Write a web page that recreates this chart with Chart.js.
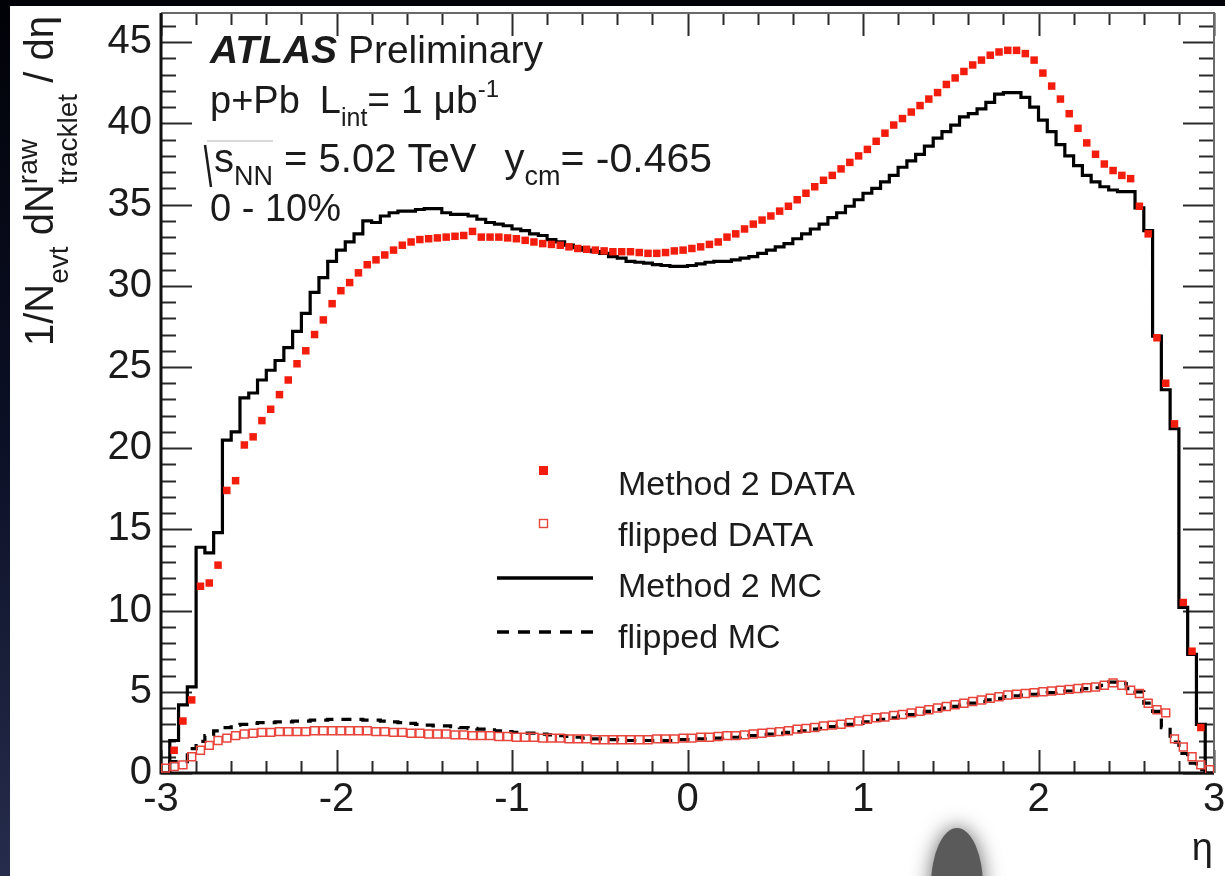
<!DOCTYPE html>
<html>
<head>
<meta charset="utf-8">
<title>Raw tracklet dN/deta, p+Pb 0-10%</title>
<script src="https://cdn.jsdelivr.net/npm/chart.js@4.4.1/dist/chart.umd.min.js"></script>
<style>
  html, body { margin: 0; padding: 0; background: #000; }
  #wrap { position: relative; width: 1225px; height: 876px; }
</style>
</head>
<body>
<div id="wrap"><canvas id="etaPlot" width="1225" height="876"></canvas></div>
<script>
const FONT = '"Liberation Sans", Arial, Helvetica, sans-serif';

// histogram binning
const etaMin = -3;
const etaMax = 3;
const binWidth = 0.05;

const xTickValues = [-3, -2, -1, 0, 1, 2, 3];
const yTickValues = [0, 5, 10, 15, 20, 25, 30, 35, 40, 45];
const yMax = 46.8;

// 120 bins each, eta from -3 to 3
const method2Data = [
  null, 1.4, 3.2, 4.5, 11.5, 11.7, 12.8, 17.4, 18.0, 20.2,
  20.7, 21.7, 22.4, 23.3, 24.2, 25.2, 26.0, 27.0, 27.9, 28.9,
  29.7, 30.2, 30.8, 31.3, 31.6, 31.9, 32.2, 32.5, 32.7, 32.85,
  32.9, 32.95, 33.0, 33.05, 33.1, 33.35, 33.0, 33.0, 33.0, 32.95,
  32.9, 32.8, 32.7, 32.6, 32.55, 32.5, 32.4, 32.3, 32.25, 32.2,
  32.15, 32.1, 32.1, 32.1, 32.05, 32.0, 32.0, 32.05, 32.15, 32.2,
  32.3, 32.4, 32.55, 32.7, 33.0, 33.2, 33.5, 33.8, 34.05, 34.3,
  34.6, 34.9, 35.3, 35.7, 36.1, 36.5, 36.8, 37.2, 37.6, 38.0,
  38.4, 38.9, 39.4, 39.9, 40.3, 40.7, 41.1, 41.5, 41.9, 42.4,
  42.8, 43.2, 43.6, 43.9, 44.2, 44.4, 44.5, 44.5, 44.3, 43.9,
  43.1, 42.3, 41.5, 40.6, 39.7, 38.8, 38.1, 37.5, 37.1, 36.8,
  36.6, 34.9, 33.2, 26.8, 24.0, 21.5, 10.5, 7.5, 2.8, null
];

const flippedData = [
  0.3, 0.4, 0.5, 1.0, 1.4, 1.7, 2.0, 2.15, 2.3, 2.4,
  2.45, 2.5, 2.5, 2.55, 2.55, 2.55, 2.55, 2.6, 2.6, 2.6,
  2.6, 2.6, 2.6, 2.6, 2.55, 2.55, 2.5, 2.5, 2.45, 2.45,
  2.4, 2.4, 2.4, 2.35, 2.35, 2.3, 2.3, 2.3, 2.25, 2.25,
  2.2, 2.2, 2.2, 2.15, 2.15, 2.15, 2.1, 2.1, 2.1, 2.05,
  2.05, 2.05, 2.05, 2.05, 2.05, 2.05, 2.1, 2.1, 2.1, 2.15,
  2.15, 2.2, 2.2, 2.25, 2.3, 2.3, 2.35, 2.4, 2.45, 2.5,
  2.55, 2.6, 2.7, 2.75, 2.8, 2.9, 2.95, 3.0, 3.1, 3.2,
  3.3, 3.4, 3.45, 3.55, 3.6, 3.7, 3.8, 3.9, 4.0, 4.1,
  4.2, 4.3, 4.4, 4.5, 4.6, 4.7, 4.8, 4.85, 4.9, 4.95,
  5.0, 5.05, 5.1, 5.15, 5.2, 5.25, 5.3, 5.4, 5.55, 5.4,
  5.1, 4.9, 4.3, 3.9, 3.7, 2.1, 1.6, 1.0, 0.5, 0.2
];

const method2MC = [
  0, 2.0, 4.2, 5.3, 13.9, 13.55, 14.8, 20.5, 21.0, 23.1,
  23.4, 24.2, 24.8, 25.4, 26.2, 27.2, 28.3, 29.6, 30.5, 31.5,
  32.2, 32.7, 33.2, 34.0, 33.9, 34.3, 34.5, 34.6, 34.6, 34.7,
  34.75, 34.75, 34.5, 34.4, 34.4, 34.3, 34.1, 33.9, 33.8, 33.7,
  33.5, 33.4, 33.2, 33.1, 32.85, 32.7, 32.5, 32.35, 32.2, 32.1,
  32.0, 31.8, 31.7, 31.5, 31.45, 31.4, 31.3, 31.25, 31.2, 31.2,
  31.25, 31.35, 31.45, 31.5, 31.5, 31.6, 31.7, 31.8, 32.0, 32.2,
  32.4, 32.6, 32.9, 33.2, 33.5, 33.8, 34.2, 34.5, 34.9, 35.3,
  35.7, 36.0, 36.4, 36.8, 37.3, 37.7, 38.1, 38.6, 39.1, 39.5,
  39.9, 40.4, 40.6, 40.9, 41.3, 41.8, 41.9, 41.9, 41.6, 41.0,
  40.2, 39.5, 38.7, 38.0, 37.4, 36.8, 36.4, 36.1, 35.9, 35.8,
  35.8, 34.8, 33.4, 26.9, 23.6, 21.2, 10.2, 7.3, 3.0, 0
];

const flippedMC = [
  0, 0.7, 0.7, 1.5, 1.95, 2.3, 2.6, 2.8, 2.95, 3.0,
  3.05, 3.1, 3.1, 3.15, 3.15, 3.2, 3.2, 3.25, 3.25, 3.3,
  3.3, 3.3, 3.3, 3.25, 3.25, 3.2, 3.15, 3.1, 3.05, 3.0,
  2.95, 2.9, 2.9, 2.85, 2.8, 2.75, 2.7, 2.65, 2.6, 2.55,
  2.5, 2.45, 2.45, 2.4, 2.35, 2.3, 2.25, 2.2, 2.15, 2.1,
  2.1, 2.05, 2.05, 2.0, 2.0, 2.0, 2.0, 2.0, 2.0, 2.05,
  2.05, 2.1, 2.1, 2.15, 2.2, 2.2, 2.25, 2.3, 2.35, 2.4,
  2.45, 2.5, 2.55, 2.6, 2.7, 2.75, 2.85, 2.9, 3.0, 3.05,
  3.15, 3.25, 3.3, 3.4, 3.5, 3.6, 3.7, 3.8, 3.9, 4.0,
  4.1, 4.2, 4.3, 4.4, 4.5, 4.6, 4.7, 4.75, 4.8, 4.85,
  4.9, 4.95, 5.0, 5.05, 5.1, 5.2, 5.25, 5.4, 5.6, 5.5,
  5.2, 5.0, 4.3, 3.8, 2.8, 1.9, 1.2, 0.6, 0.2, 0
];

const binEdges = method2MC.map((_, i) => etaMin + i * binWidth);
const binCenters = binEdges.map(e => e + binWidth / 2);

const RED = '#f21d0d';
const RED_OPEN = '#e8453c';

// histogram outline: one point per low edge, plus the closing edge
function stepPoints(values) {
  const pts = values.map((v, i) => ({ x: binEdges[i], y: v }));
  pts.push({ x: etaMax, y: values[values.length - 1] });
  return pts;
}

function markerPoints(values) {
  return values.map((v, i) => ({ x: binCenters[i], y: v }));
}

// sub/superscript text run; parts with keep:true don't advance the pen
function richText(ctx, x, y, parts) {
  let cx = x;
  for (const p of parts) {
    if (p.gap) { cx += p.gap; continue; }
    ctx.font = `${p.style || ''} ${p.size}px ${FONT}`;
    ctx.fillText(p.t, cx, y + (p.dy || 0));
    if (!p.keep) cx += ctx.measureText(p.t).width;
  }
  return cx;
}

const backdrop = {
  id: 'backdrop',
  beforeDraw(chart) {
    const ctx = chart.ctx;
    ctx.save();
    const g = ctx.createLinearGradient(0, 0, 0, chart.height);
    g.addColorStop(0, '#010207');
    g.addColorStop(0.5, '#0c1026');
    g.addColorStop(1, '#262c4c');
    ctx.fillStyle = g;
    ctx.fillRect(0, 0, chart.width, chart.height);
    ctx.fillStyle = '#ffffff';
    ctx.fillRect(10, 6, chart.width - 10, chart.height - 6);

    // grey pointer blob under the axis
    ctx.shadowColor = 'rgba(0,0,0,0.6)';
    ctx.shadowBlur = 20;
    ctx.fillStyle = '#5a5a5a';
    ctx.beginPath();
    ctx.ellipse(957, 886, 26, 58, 0, 0, Math.PI * 2);
    ctx.fill();
    ctx.restore();
  }
};

// ROOT-like frame with ticks on the inside of all four sides
const rootFrame = {
  id: 'rootFrame',
  beforeDatasetsDraw(chart) {
    const { ctx, chartArea: a, scales: { x, y } } = chart;
    ctx.save();
    ctx.strokeStyle = '#2a2a2a';
    ctx.lineWidth = 2;
    ctx.beginPath();
    for (let v = etaMin; v <= etaMax + 1e-6; v += 0.2) {
      const major = xTickValues.some(t => Math.abs(t - v) < 1e-6);
      const len = major ? 23 : 12;
      const px = Math.round(x.getPixelForValue(v)) + 0.5;
      ctx.moveTo(px, a.bottom); ctx.lineTo(px, a.bottom - len);
      ctx.moveTo(px, a.top); ctx.lineTo(px, a.top + len);
    }
    for (let v = 0; v <= yMax; v += 1) {
      const major = v % 5 === 0;
      const len = major ? 31 : 15;
      const py = Math.round(y.getPixelForValue(v)) + 0.5;
      ctx.moveTo(a.left, py); ctx.lineTo(a.left + len, py);
      ctx.moveTo(a.right, py); ctx.lineTo(a.right - len, py);
    }
    ctx.stroke();

    ctx.strokeStyle = '#6a6a6a';
    ctx.lineWidth = 2;
    ctx.beginPath();
    ctx.moveTo(a.left, a.top); ctx.lineTo(a.right, a.top); ctx.lineTo(a.right, a.bottom);
    ctx.stroke();
    ctx.strokeStyle = '#111';
    ctx.lineWidth = 3;
    ctx.beginPath();
    ctx.moveTo(a.left, a.top); ctx.lineTo(a.left, a.bottom); ctx.lineTo(a.right, a.bottom);
    ctx.stroke();
    ctx.restore();
  }
};

const annotations = {
  id: 'annotations',
  afterDraw(chart) {
    const ctx = chart.ctx;
    ctx.save();
    ctx.fillStyle = '#1b1b1b';
    ctx.textBaseline = 'alphabetic';
    ctx.textAlign = 'left';

    // labels in the top left corner
    richText(ctx, 210, 63, [
      { t: 'ATLAS', size: 39, style: 'italic bold' },
      { t: ' Preliminary', size: 39 }
    ]);
    richText(ctx, 210, 113, [
      { t: 'p+Pb', size: 38 }, { gap: 20 },
      { t: 'L', size: 38 }, { t: 'int', size: 25, dy: 13 },
      { t: '= 1 \u03bcb', size: 39 }, { t: '-1', size: 24, dy: -16 }
    ]);
    const sqrtEnd = richText(ctx, 214, 172, [
      { t: 's', size: 40 }, { t: 'NN', size: 27, dy: 13 }
    ]);
    richText(ctx, sqrtEnd, 172, [
      { t: ' = 5.02 TeV', size: 40 }, { gap: 28 },
      { t: 'y', size: 40 }, { t: 'cm', size: 27, dy: 13 },
      { t: '= -0.465', size: 41 }
    ]);
    ctx.strokeStyle = '#1b1b1b';
    ctx.lineWidth = 2.5;
    ctx.beginPath();
    ctx.moveTo(205, 145); ctx.lineTo(211, 187);
    ctx.stroke();
    ctx.strokeStyle = '#b5b5b5';
    ctx.lineWidth = 1.2;
    ctx.beginPath();
    ctx.moveTo(207, 141); ctx.lineTo(sqrtEnd, 141);
    ctx.stroke();
    richText(ctx, 210, 221, [{ t: '0 - 10%', size: 38 }]);

    // legend
    const legendX = 618;
    const rows = [
      { label: 'Method 2 DATA', base: 495 },
      { label: 'flipped DATA', base: 546 },
      { label: 'Method 2 MC', base: 597 },
      { label: 'flipped MC', base: 648 }
    ];
    ctx.fillStyle = RED;
    ctx.fillRect(539, 466, 9, 9);
    ctx.strokeStyle = RED_OPEN;
    ctx.lineWidth = 1.4;
    ctx.strokeRect(539.5, 519.5, 8, 8);
    ctx.strokeStyle = '#000';
    ctx.lineWidth = 3.5;
    ctx.beginPath();
    ctx.moveTo(497, 578); ctx.lineTo(593, 578);
    ctx.stroke();
    ctx.setLineDash([12, 9]);
    ctx.beginPath();
    ctx.moveTo(497, 632); ctx.lineTo(593, 632);
    ctx.stroke();
    ctx.setLineDash([]);
    ctx.fillStyle = '#1b1b1b';
    ctx.font = `34px ${FONT}`;
    rows.forEach(r => ctx.fillText(r.label, legendX, r.base));

    // axis titles
    ctx.textAlign = 'right';
    ctx.font = `38px ${FONT}`;
    ctx.fillText('\u03b7', 1213, 860);

    ctx.textAlign = 'left';
    ctx.translate(53, 346);
    ctx.rotate(-Math.PI / 2);
    richText(ctx, 0, 0, [
      { t: '1/N', size: 40 }, { t: 'evt', size: 28, dy: 15 },
      { t: ' dN', size: 40 },
      { t: 'raw', size: 28, dy: -16, keep: true },
      { t: 'tracklet', size: 28, dy: 24 },
      { t: ' / d\u03b7', size: 40 }
    ]);
    ctx.restore();
  }
};

const tickFont = { family: FONT, size: 40 };

new Chart(document.getElementById('etaPlot'), {
  type: 'line',
  data: {
    datasets: [
      {
        label: 'Method 2 DATA',
        data: markerPoints(method2Data),
        showLine: false,
        pointStyle: 'rect',
        pointRadius: 5.3,
        pointBackgroundColor: RED,
        pointBorderWidth: 0,
        order: 0
      },
      {
        label: 'flipped DATA',
        data: markerPoints(flippedData),
        showLine: false,
        pointStyle: 'rect',
        pointRadius: 5.6,
        pointBackgroundColor: 'rgba(0,0,0,0)',
        pointBorderColor: RED_OPEN,
        pointBorderWidth: 1.5,
        order: 1
      },
      {
        label: 'Method 2 MC',
        data: stepPoints(method2MC),
        stepped: true,
        borderColor: '#000',
        borderWidth: 3.2,
        pointRadius: 0,
        fill: false,
        order: 2
      },
      {
        label: 'flipped MC',
        data: stepPoints(flippedMC),
        stepped: true,
        borderColor: '#000',
        borderWidth: 3.2,
        borderDash: [10, 8],
        pointRadius: 0,
        fill: false,
        order: 3
      }
    ]
  },
  options: {
    responsive: false,
    devicePixelRatio: 1,
    animation: false,
    layout: { padding: { top: 13, right: 11, bottom: 0, left: 0 } },
    plugins: { legend: { display: false }, tooltip: { enabled: false } },
    scales: {
      x: {
        type: 'linear',
        min: etaMin,
        max: etaMax,
        grid: { display: false, drawTicks: false },
        border: { display: false },
        ticks: { font: tickFont, color: '#1b1b1b', padding: 3, maxRotation: 0 },
        afterBuildTicks: s => { s.ticks = xTickValues.map(v => ({ value: v })); },
        afterFit: s => {
          s.height = 103;
          s.paddingLeft = 0; s.paddingRight = 0;
        }
      },
      y: {
        type: 'linear',
        min: 0,
        max: yMax,
        grid: { display: false, drawTicks: false },
        border: { display: false },
        ticks: { font: tickFont, color: '#1b1b1b', padding: 9 },
        afterBuildTicks: s => { s.ticks = yTickValues.map(v => ({ value: v })); },
        afterFit: s => {
          s.width = 161;
          s.paddingTop = 0; s.paddingBottom = 0;
        }
      }
    }
  },
  plugins: [backdrop, rootFrame, annotations]
});
</script>
</body>
</html>
